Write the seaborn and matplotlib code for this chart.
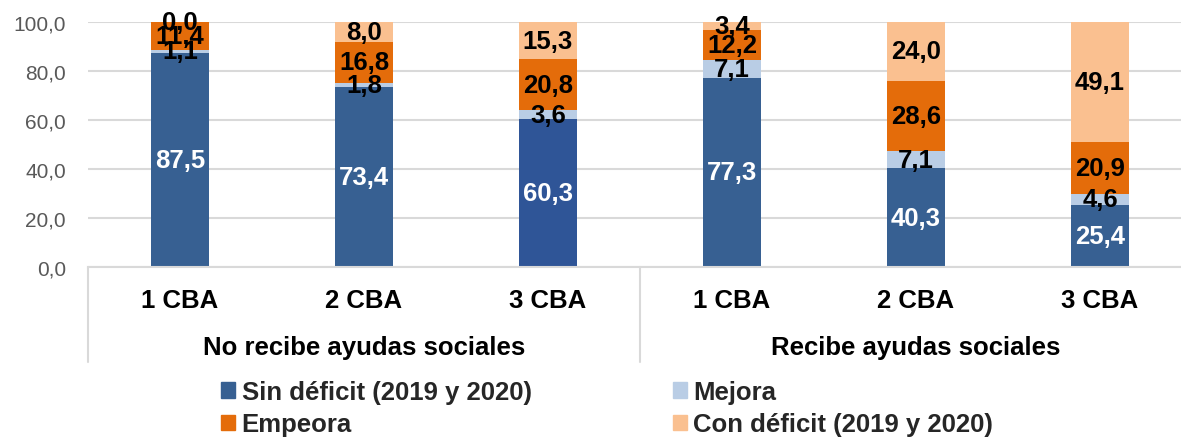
import pandas as pd
import matplotlib
matplotlib.use("Agg")
import matplotlib.pyplot as plt
import matplotlib.transforms as mtransforms
from matplotlib.patches import Patch
import seaborn as sns

# ── Data ────────────────────────────────────────────────────────────────────
groups = ["No recibe ayudas sociales", "Recibe ayudas sociales"]
cba = ["1 CBA", "2 CBA", "3 CBA"]
series = ["Sin déficit (2019 y 2020)", "Mejora", "Empeora", "Con déficit (2019 y 2020)"]
sin_deficit = [87.5, 73.4, 60.3, 77.3, 40.3, 25.4]
mejora = [1.1, 1.8, 3.6, 7.1, 7.1, 4.6]
empeora = [11.4, 16.8, 20.8, 12.2, 28.6, 20.9]
con_deficit = [0.0, 8.0, 15.3, 3.4, 24.0, 49.1]
yticks = [0, 20, 40, 60, 80, 100]

# ── Style ───────────────────────────────────────────────────────────────────
sns.set_theme(style="white")
plt.rcParams["font.family"] = ["Liberation Sans", "DejaVu Sans"]

colors = ["#376092", "#B9CDE5", "#E46C0A", "#FAC090"]
sin_bar_colors = ["#376092", "#376092", "#2F5597", "#376092", "#376092", "#376092"]
grid_col = "#D9D9D9"

keys = [f"{g}|{c}" for g in groups for c in cba]
df = pd.DataFrame({"bar": keys, series[0]: sin_deficit, series[1]: mejora,
                   series[2]: empeora, series[3]: con_deficit})
cum = df[series].cumsum(axis=1)
for s in series:
    df["top_" + s] = cum[s]

W, H = 1181, 439
fig = plt.figure(figsize=(W / 100, H / 100), dpi=100)
ax = fig.add_axes([88 / W, 1 - 268 / H, 1104 / W, 245 / H])

# stacked bars: draw cumulative tops, largest first
for i in range(len(series) - 1, -1, -1):
    s = series[i]
    if i == 0:
        sns.barplot(data=df, x="bar", y="top_" + s, order=keys, hue="bar",
                    palette=dict(zip(keys, sin_bar_colors)), legend=False,
                    width=0.31, saturation=1, linewidth=0, errorbar=None, ax=ax)
    else:
        sns.barplot(data=df, x="bar", y="top_" + s, order=keys, color=colors[i],
                    width=0.31, saturation=1, linewidth=0, errorbar=None, ax=ax)

# value labels (centered in each segment, as in the source)
for j in range(len(keys)):
    bottom = 0
    for i, s in enumerate(series):
        v = df[s].iloc[j]
        ax.text(j, bottom + v / 2, f"{v:.1f}".replace(".", ","),
                ha="center", va="center", fontsize=18.5, fontweight="bold",
                color="white" if i == 0 else "black")
        bottom += v

# axes
ax.set_xlim(-0.5, 5.5)
ax.set_ylim(0, 100)
ax.set_yticks(yticks)
ax.set_yticklabels([f"{t:.1f}".replace(".", ",") for t in yticks],
                   fontsize=15, color="#595959")
ax.set_xticks(range(len(keys)))
ax.set_xticklabels(cba * 2, fontsize=18.5, fontweight="bold", color="black")
ax.tick_params(axis="y", length=0, pad=16)
ax.tick_params(axis="x", length=0, pad=15)
ax.set_xlabel("")
ax.set_ylabel("")
ax.yaxis.grid(True, color=grid_col, linewidth=1.5)
ax.set_axisbelow(True)
for side in ["left", "right", "top"]:
    ax.spines[side].set_visible(False)
ax.spines["bottom"].set_color(grid_col)
ax.spines["bottom"].set_linewidth(1.5)

# group labels and separators
trans = mtransforms.blended_transform_factory(ax.transData, ax.transAxes)
for k, g in enumerate(groups):
    ax.text(3 * k + 1, -(348 - 268) / 245, g, transform=trans, ha="center",
            va="center", fontsize=18.5, fontweight="bold", color="black")
for xs in [-0.5, 2.5, 5.5]:
    ax.plot([xs, xs], [0, -(363 - 268) / 245], transform=trans, color=grid_col,
            linewidth=1.5, clip_on=False)

# legend (row-major order)
handles = [Patch(color=colors[0]), Patch(color=colors[2]),
           Patch(color=colors[1]), Patch(color=colors[3])]
labels = [series[0], series[2], series[1], series[3]]
fig.legend(handles, labels, loc="upper left", bbox_to_anchor=(221 / W, 1 - 381 / H),
           ncol=2, frameon=False, borderpad=0, borderaxespad=0,
           handlelength=0.55, handleheight=0.55, handletextpad=0.25,
           columnspacing=5.5, labelspacing=0.33,
           prop={"size": 18.5, "weight": "bold"})

fig.savefig("out.png", dpi=100)
